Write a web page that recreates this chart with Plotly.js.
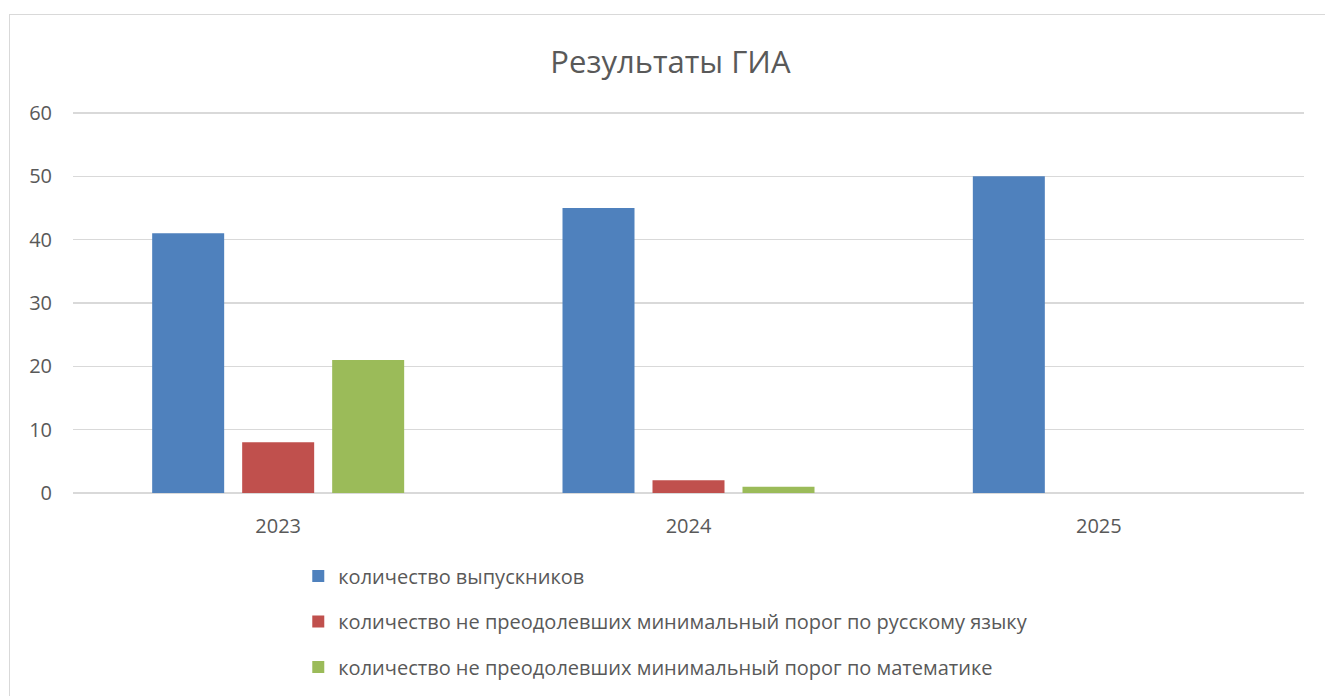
<!DOCTYPE html>
<html>
<head>
<meta charset="utf-8">
<script src="https://cdn.plot.ly/plotly-3.0.1.min.js"></script>
<style>
html,body{margin:0;padding:0;background:#fff;}
#wrap{position:relative;width:1325px;height:696px;overflow:hidden;}
#chart{position:absolute;left:0;top:0;width:1325px;height:696px;}
#frame{position:absolute;left:9px;top:14px;width:1400px;height:800px;border-left:1px solid #d9d9d9;border-top:1px solid #d9d9d9;pointer-events:none;}
</style>
</head>
<body>
<div id="wrap"><div id="chart"></div><div id="frame"></div></div>
<script>
const categories = ["2023", "2024", "2025"];
const seriesNames = [
  "количество выпускников",
  "количество не преодолевших минимальный порог по русскому языку",
  "количество не преодолевших минимальный порог по математике"
];
const graduates = [41, 45, 50];
const failedRussian = [8, 2, 0];
const failedMath = [21, 1, 0];
const colors = ["#4F81BD", "#C0504D", "#9BBB59"];
const yTicks = [0, 10, 20, 30, 40, 50, 60];

const FONT = "Open Sans, Liberation Sans, sans-serif";
const allValues = [graduates, failedRussian, failedMath];
const traces = allValues.map((vals, i) => ({
  type: "bar",
  name: seriesNames[i],
  x: categories,
  y: vals,
  marker: {color: colors[i], line: {width: 0}},
  legendgroup: "g" + i,
  hoverinfo: "x+y+name"
}));

const layout = {
  width: 1325,
  height: 696,
  margin: {l: 73, r: 21, t: 110, b: 200, autoexpand: false},
  paper_bgcolor: "#ffffff",
  plot_bgcolor: "#ffffff",
  barmode: "group",
  bargap: 0.342,
  bargroupgap: 0.2,
  title: {
    text: "Результаты ГИА",
    font: {family: FONT, size: 31, color: "#595959"},
    x: 0.506, xanchor: "center",
    y: 0.911, yanchor: "middle", yref: "container"
  },
  xaxis: {
    type: "category",
    showgrid: false,
    zeroline: false,
    showline: false,
    ticks: "",
    tickfont: {family: FONT, size: 20, color: "#595959"},
    ticklabelstandoff: 16
  },
  yaxis: {
    range: [-0.47, 60.47],
    tickvals: yTicks,
    ticktext: yTicks.map(String),
    showgrid: true,
    gridcolor: "#d9d9d9",
    gridwidth: 1.3,
    zeroline: false,
    showline: false,
    ticks: "",
    tickfont: {family: FONT, size: 20, color: "#595959"},
    ticklabelstandoff: 20,
    fixedrange: true
  },
  showlegend: true,
  legend: {
    orientation: "v",
    x: 0.183, xanchor: "left",
    yref: "container",
    y: 0.2003, yanchor: "top",
    font: {family: FONT, size: 20, color: "#595959"},
    tracegroupgap: 16.5,
    itemwidth: 30,
    bgcolor: "rgba(0,0,0,0)"
  }
};

Plotly.newPlot("chart", traces, layout, {displayModeBar: false, staticPlot: true});
</script>
</body>
</html>
